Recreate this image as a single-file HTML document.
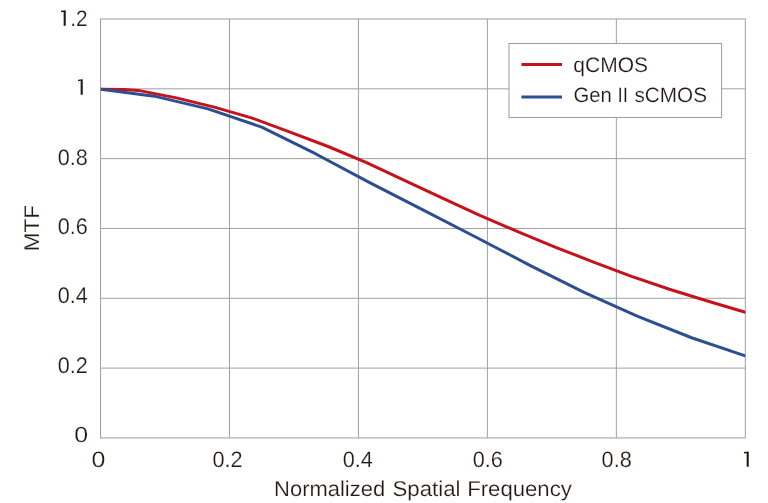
<!DOCTYPE html>
<html><head><meta charset="utf-8"><title>MTF</title>
<style>
html,body{margin:0;padding:0;background:#fff;}
body{width:768px;height:503px;overflow:hidden;font-family:"Liberation Sans",sans-serif;}
svg{display:block;will-change:transform;}
text{font-family:"Liberation Sans",sans-serif;font-size:100px;fill:#231815;text-rendering:geometricPrecision;stroke:#ffffff;stroke-width:0.9px;stroke-linejoin:round;}
.grid line{stroke:#a0a0a0;stroke-width:1;}
</style></head><body>
<svg width="768" height="503" viewBox="0 0 768 503">
<rect x="0" y="0" width="768" height="503" fill="#ffffff"/>
<g class="grid">
<line x1="229.50" y1="19.00" x2="229.50" y2="437.92"/>
<line x1="358.45" y1="19.00" x2="358.45" y2="437.92"/>
<line x1="487.40" y1="19.00" x2="487.40" y2="437.92"/>
<line x1="616.35" y1="19.00" x2="616.35" y2="437.92"/>
<line x1="100.55" y1="88.82" x2="745.30" y2="88.82"/>
<line x1="100.55" y1="158.64" x2="745.30" y2="158.64"/>
<line x1="100.55" y1="228.46" x2="745.30" y2="228.46"/>
<line x1="100.55" y1="298.28" x2="745.30" y2="298.28"/>
<line x1="100.55" y1="368.10" x2="745.30" y2="368.10"/>
</g>
<rect x="100.55" y="19.00" width="644.75" height="418.92" fill="none" stroke="#9e9e9e" stroke-width="1"/>
<clipPath id="pc"><rect x="100.9" y="0" width="644.35" height="503"/></clipPath>
<g clip-path="url(#pc)">
<polyline points="98.4,89.27 100.9,89.30 124.0,89.60 138.4,90.40 156.0,93.85 176.4,97.90 214.3,107.10 252.2,118.10 290.1,132.20 328.1,146.50 366.0,162.40 403.9,180.10 441.9,197.80 479.8,215.35 517.7,231.60 555.7,247.30 593.6,262.05 631.5,276.45 669.4,289.25 707.4,301.05 745.3,312.25 747.8,312.99" fill="none" stroke="#c6121a" stroke-width="3" stroke-linejoin="round"/>
<polyline points="98.4,88.93 100.9,89.25 154.2,96.15 208.0,108.90 261.7,127.10 315.4,153.70 369.2,182.40 422.9,209.80 476.6,237.50 530.4,265.55 584.1,292.40 637.8,316.45 691.6,337.75 745.3,355.90 747.8,356.74" fill="none" stroke="#2c4f91" stroke-width="3" stroke-linejoin="round"/>
</g>
<rect x="509.0" y="43.5" width="212.6" height="73.95" fill="#ffffff" stroke="#9c9c9c" stroke-width="1"/>
<line x1="521.4" y1="64.4" x2="562" y2="64.4" stroke="#c6121a" stroke-width="3"/>
<line x1="521.4" y1="96.9" x2="562" y2="96.9" stroke="#2c4f91" stroke-width="3"/>
<path d="M61.00,10.85 L65.75,10.30 L65.75,25.70 L63.65,25.70 L63.65,11.95 L61.15,12.25 Z" fill="#231815"><title>1</title></path>
<text transform="translate(70.23,25.75) scale(0.2080,0.2237)">.2</text>
<path d="M78.00,79.75 L82.75,79.20 L82.75,94.70 L80.65,94.70 L80.65,80.85 L78.15,81.15 Z" fill="#231815"><title>1</title></path>
<text transform="translate(57.73,164.88) scale(0.2164,0.2247)">0.8</text>
<text transform="translate(57.73,233.92) scale(0.2164,0.2254)">0.6</text>
<text transform="translate(57.74,302.92) scale(0.2159,0.2254)">0.4</text>
<text transform="translate(57.73,372.92) scale(0.2169,0.2254)">0.2</text>
<text transform="translate(74.35,441.73) scale(0.2503,0.2198)">0</text>
<text transform="translate(91.40,466.88) scale(0.2492,0.2226)">0</text>
<text transform="translate(212.53,466.88) scale(0.2169,0.2226)">0.2</text>
<text transform="translate(342.63,466.88) scale(0.2170,0.2226)">0.4</text>
<text transform="translate(472.68,466.88) scale(0.2164,0.2226)">0.6</text>
<text transform="translate(601.58,466.88) scale(0.2172,0.2226)">0.8</text>
<path d="M743.95,452.05 L748.75,451.50 L748.75,466.75 L746.65,466.75 L746.65,453.15 L744.10,453.45 Z" fill="#231815"><title>1</title></path>
<text transform="translate(274.09,496.25) scale(0.2196,0.2138)">Normalized</text>
<text transform="translate(392.45,496.25) scale(0.2224,0.2138)">Spatial</text>
<text transform="translate(467.22,496.25) scale(0.2213,0.2138)">Frequency</text>
<text transform="translate(573.31,72.20) scale(0.2102,0.2095)">qCMOS</text>
<text transform="translate(573.39,102.15) scale(0.2028,0.2080)">Gen</text>
<text transform="translate(617.44,102.15) scale(0.1905,0.2080)">II</text>
<text transform="translate(634.43,102.15) scale(0.2073,0.2080)">sCMOS</text>
<text transform="translate(38.5,251.36) rotate(-90) scale(0.2251,0.2124)">MTF</text>
</svg>
</body></html>
